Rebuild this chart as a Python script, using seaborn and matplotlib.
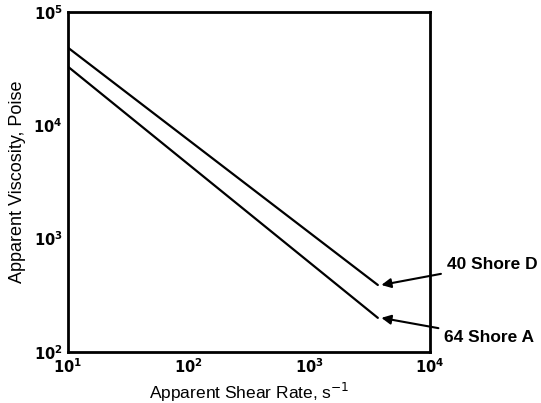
import numpy as np
import pandas as pd
import seaborn as sns
import matplotlib.pyplot as plt

# shear rate (s^-1) and apparent viscosity (poise)
shear_rate = [10, 3700]
visc_40d = [48400, 390]
visc_64a = [32900, 200]
labels = ['40 Shore D', '64 Shore A']

df = pd.concat([
    pd.DataFrame({'rate': shear_rate, 'visc': visc_40d, 'grade': labels[0]}),
    pd.DataFrame({'rate': shear_rate, 'visc': visc_64a, 'grade': labels[1]}),
])

sns.set_style('white', {'text.color': 'black', 'axes.labelcolor': 'black',
                        'xtick.color': 'black', 'ytick.color': 'black'})
plt.rcParams['font.family'] = ['Liberation Sans', 'DejaVu Sans']

fig = plt.figure(figsize=(5.41, 4.03), dpi=100)
ax = fig.add_axes([0.1257, 0.1266, 0.669, 0.8437])
sns.lineplot(data=df, x='rate', y='visc', hue='grade', palette=['black', 'black'],
             linewidth=1.6, legend=False, ax=ax)
ax.set_xscale('log')
ax.set_yscale('log')
ax.set_xlim(10, 1e4)
ax.set_ylim(100, 1e5)
ax.minorticks_off()
ax.set_xticks([10, 100, 1000, 10000])
ax.set_yticks([100, 1000, 10000, 100000])
ax.set_xticklabels(['$\\mathbf{10^1}$', '$\\mathbf{10^2}$', '$\\mathbf{10^3}$', '$\\mathbf{10^4}$'])
ax.set_yticklabels(['$\\mathbf{10^2}$', '$\\mathbf{10^3}$', '$\\mathbf{10^4}$', '$\\mathbf{10^5}$'])
ax.tick_params(direction='in', length=6, width=1.5, labelsize=10.5, pad=4,
               color='black', labelcolor='black')
for s in ax.spines.values():
    s.set_linewidth(2)
    s.set_color('black')
ax.set_xlabel('Apparent Shear Rate, s$^{-1}$', fontsize=12.5, labelpad=3, color='black')
ax.set_ylabel('Apparent Viscosity, Poise', fontsize=13, labelpad=5, color='black')

# arrow labels at line ends
ends = [(shear_rate[-1], visc_40d[-1]), (shear_rate[-1], visc_64a[-1])]
text_pos = [(1.047, 0.258), (1.04, 0.043)]
for lab, (xe, ye), tp in zip(labels, ends, text_pos):
    ax.annotate(lab, xy=(xe * 1.07, ye * 1.0), xycoords='data',
                xytext=tp, textcoords='axes fraction', color='black',
                fontsize=12.5, fontweight='bold', va='center', ha='left',
                arrowprops=dict(arrowstyle='-|>', color='black', lw=1.5,
                                mutation_scale=14, shrinkA=2, shrinkB=0),
                annotation_clip=False)

fig.savefig('out.png', dpi=100)
